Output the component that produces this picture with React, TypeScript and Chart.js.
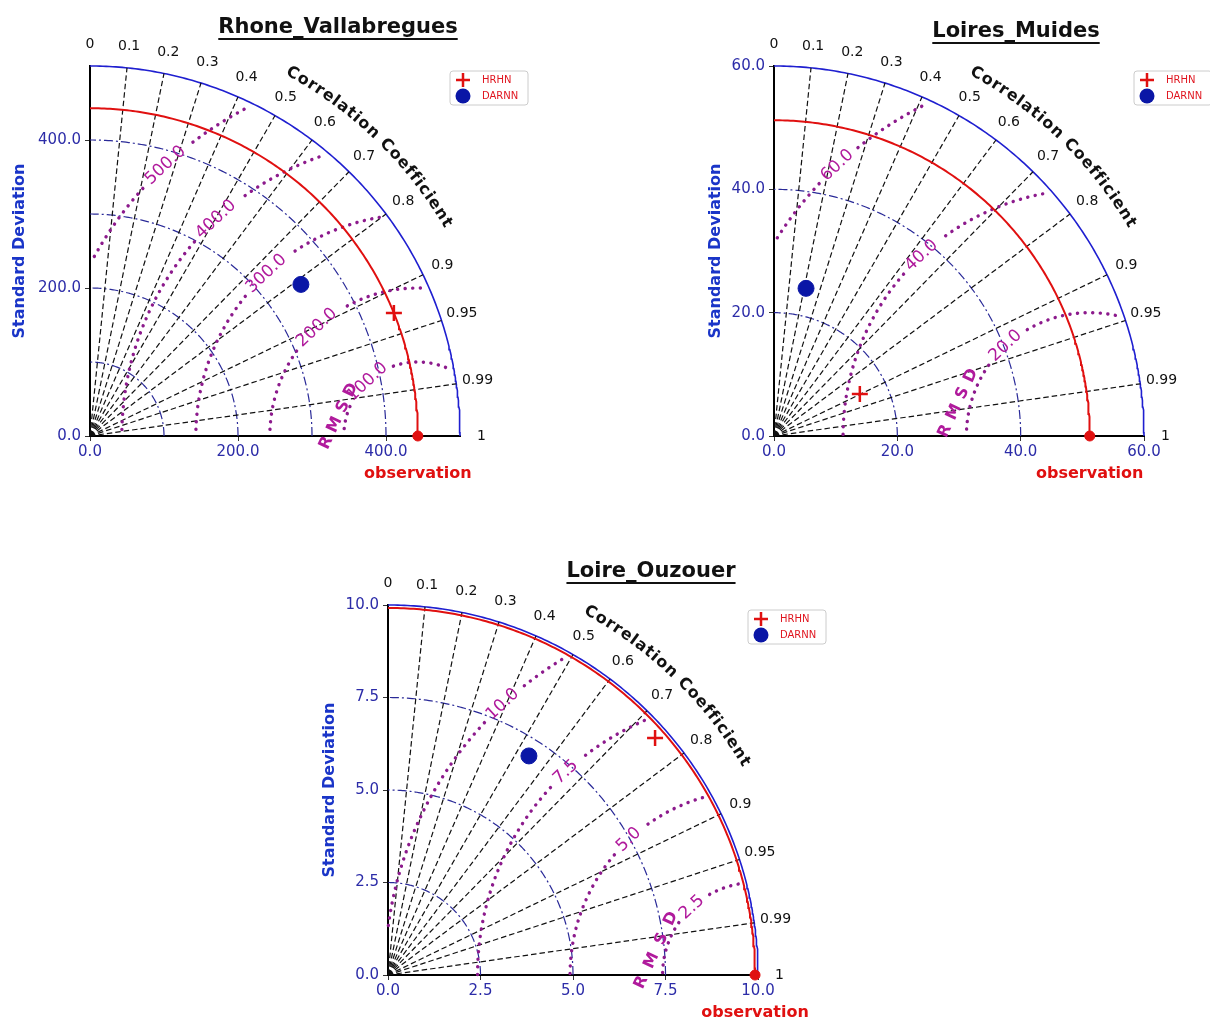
import React, { useEffect, useRef } from "react";
import { Chart, registerables } from "chart.js";

Chart.register(...registerables);
Chart.defaults.font.family = '"DejaVu Sans", sans-serif';

// ---------------- data ----------------
const panelTitles = ["Rhone_Vallabregues", "Loires_Muides", "Loire_Ouzouer"];
const maxStd = [500, 60, 10];
const obsStd = [443, 51.2, 9.92];
const stdTicks = [
  [0, 200, 400],
  [0, 20, 40, 60],
  [0, 2.5, 5, 7.5, 10],
];
const stdGridLevels = [
  [100, 200, 300, 400],
  [20, 40],
  [2.5, 5, 7.5],
];
const rmsLevels = [
  [100, 200, 300, 400, 500],
  [20, 40, 60],
  [2.5, 5, 7.5, 10],
];
const corrTickLabels = [0, 0.1, 0.2, 0.3, 0.4, 0.5, 0.6, 0.7, 0.8, 0.9, 0.95, 0.99, 1];
const corrGridLines = [0.1, 0.2, 0.3, 0.4, 0.5, 0.6, 0.7, 0.8, 0.9, 0.95, 0.99];
const seriesNames = ["HRHN", "DARNN"];
const hrhnStd = [443, 15.5, 9.65];
const hrhnCorr = [0.927, 0.898, 0.748];
const darnnStd = [351, 24.5, 7.04];
const darnnCorr = [0.812, 0.212, 0.541];

// ---------------- layout / style ----------------
const PLOT_PX = 370;
const PANEL_LAYOUT = [
  { left: 0, top: 0, w: 560, h: 500, yW: 90, padTop: 66, padRight: 100, xH: 64, titleDx: 248, titleDy: -33, yTitleDx: 70, rmsdSpacing: 6 },
  { left: 680, top: 0, w: 530, h: 500, yW: 94, padTop: 66, padRight: 66, xH: 64, titleDx: 242, titleDy: -29, yTitleDx: 58, rmsdSpacing: 7 },
  { left: 290, top: 540, w: 560, h: 483, yW: 98, padTop: 65, padRight: 92, xH: 48, titleDx: 263, titleDy: -28, yTitleDx: 58, rmsdSpacing: 10 },
];
const RMS_LABEL_ANGLE = 133;
const RMSD_ANGLE = 166;

const TICK_BLUE = "#2c2ca8";
const TITLE_BLUE = "#1a35c8";
const OUTER_BLUE = "#1f1fd0";
const GRID_BLUE = "#2a2a98";
const OBS_RED = "#e01010";
const RMS_DOT = "#8c1a8c";
const RMS_TXT = "#b01a9c";
const LEG_RED = "#e0141e";
const DARNN_BLUE = "#0a16a6";

const DEG = Math.PI / 180;

type P = { x: number; y: number };

function quarterArc(r: number): P[] {
  const pts: P[] = [];
  for (let t = 0; t <= 90.0001; t += 0.5) pts.push({ x: r * Math.cos(t * DEG), y: r * Math.sin(t * DEG) });
  return pts;
}

function rmsSegments(obs: number, r: number, clipR: number, gapC: number, gapHalf: number): P[][] {
  const segs: P[][] = [];
  let cur: P[] = [];
  for (let t = 0; t <= 180.0001; t += 0.5) {
    const x = obs + r * Math.cos(t * DEG);
    const y = r * Math.sin(t * DEG);
    const ok = x >= -1e-9 && x * x + y * y <= clipR * clipR && Math.abs(t - gapC) > gapHalf;
    if (ok) cur.push({ x, y });
    else if (cur.length) {
      segs.push(cur);
      cur = [];
    }
  }
  if (cur.length) segs.push(cur);
  return segs;
}

function polar(std: number, corr: number): P {
  return { x: std * corr, y: std * Math.sqrt(Math.max(0, 1 - corr * corr)) };
}

function buildDatasets(i: number) {
  const max = maxStd[i];
  const obs = obsStd[i];
  const pxPerUnit = PLOT_PX / max;
  const ds: any[] = [];
  const line = (data: P[], extra: any) =>
    ds.push({ data, showLine: true, pointRadius: 0, tension: 0, clip: false, fill: false, ...extra });

  // markers (on top)
  ds.push({
    label: seriesNames[0],
    data: [polar(hrhnStd[i], hrhnCorr[i])],
    pointStyle: "cross",
    pointRadius: 8,
    pointBorderWidth: 2.5,
    borderColor: OBS_RED,
    backgroundColor: OBS_RED,
    clip: false,
  });
  ds.push({
    label: seriesNames[1],
    data: [polar(darnnStd[i], darnnCorr[i])],
    pointStyle: "circle",
    pointRadius: 8,
    pointBorderWidth: 1,
    borderColor: DARNN_BLUE,
    backgroundColor: DARNN_BLUE,
    clip: false,
  });
  ds.push({
    label: "obs",
    data: [{ x: obs, y: 0 }],
    pointStyle: "circle",
    pointRadius: 5,
    borderColor: OBS_RED,
    backgroundColor: OBS_RED,
    clip: false,
  });
  // observation arc
  line(quarterArc(obs), { borderColor: OBS_RED, borderWidth: 2 });
  // RMS contours
  rmsLevels[i].forEach((lv) => {
    const txt = lv.toFixed(1);
    const halfPx = txt.length * 5.2 + 4;
    const gapHalf = halfPx / (lv * pxPerUnit) / DEG;
    rmsSegments(obs, lv, max * 0.98, RMS_LABEL_ANGLE, gapHalf).forEach((seg) =>
      line(seg, { borderColor: RMS_DOT, borderWidth: 3.4, borderDash: [0.1, 7.5], borderCapStyle: "round" })
    );
  });
  // correlation lines
  corrGridLines.forEach((c) => {
    line([{ x: 0, y: 0 }, polar(max, c)], { borderColor: "#111", borderWidth: 1.2, borderDash: [5.5, 3] });
  });
  // std grid arcs
  stdGridLevels[i].forEach((r) => {
    line(quarterArc(r), { borderColor: GRID_BLUE, borderWidth: 1.2, borderDash: [9, 3, 2, 3] });
  });
  // outer arc
  line(quarterArc(max), { borderColor: OUTER_BLUE, borderWidth: 1.6 });
  return ds;
}

function decorPlugin(i: number) {
  const L = PANEL_LAYOUT[i];
  return {
    id: "taylorDecor" + i,
    afterDraw(chart: any) {
      const ctx: CanvasRenderingContext2D = chart.ctx;
      const xs = chart.scales.x;
      const ys = chart.scales.y;
      const ca = chart.chartArea;
      const max = maxStd[i];
      const obs = obsStd[i];
      const ox = xs.getPixelForValue(0);
      const oy = ys.getPixelForValue(0);
      const R = xs.getPixelForValue(max) - ox;
      const toPx = (x: number, y: number) => [xs.getPixelForValue(x), ys.getPixelForValue(y)];

      ctx.save();
      // title
      ctx.font = 'bold 21px "DejaVu Sans"';
      ctx.fillStyle = "#111";
      ctx.textAlign = "center";
      ctx.textBaseline = "alphabetic";
      const tx = ca.left + L.titleDx;
      const ty = ca.top + L.titleDy;
      ctx.fillText(panelTitles[i], tx, ty);
      const tw = ctx.measureText(panelTitles[i]).width;
      ctx.strokeStyle = "#111";
      ctx.lineWidth = 2;
      ctx.beginPath();
      ctx.moveTo(tx - tw / 2, ty + 6);
      ctx.lineTo(tx + tw / 2, ty + 6);
      ctx.stroke();

      // y title
      ctx.save();
      ctx.translate(ca.left - L.yTitleDx, (ca.top + ca.bottom) / 2);
      ctx.rotate(-Math.PI / 2);
      ctx.font = 'bold 16px "DejaVu Sans"';
      ctx.fillStyle = TITLE_BLUE;
      ctx.textBaseline = "middle";
      ctx.fillText("Standard Deviation", 0, 0);
      ctx.restore();

      // observation label
      ctx.font = 'bold 16px "DejaVu Sans"';
      ctx.fillStyle = OBS_RED;
      ctx.textBaseline = "middle";
      ctx.fillText("observation", xs.getPixelForValue(obs), ca.bottom + 38);

      // correlation tick labels
      ctx.font = '14px "DejaVu Sans"';
      ctx.fillStyle = "#111";
      corrTickLabels.forEach((c) => {
        const a = Math.acos(c);
        const rr = R * 1.058;
        ctx.fillText(String(c), ox + rr * Math.cos(a), oy - rr * Math.sin(a));
      });

      // curved "Correlation Coefficient"
      ctx.font = 'bold 16px "DejaVu Sans"';
      const text = "Correlation Coefficient";
      const sp = 1;
      const chars = [...text];
      const ws = chars.map((ch) => ctx.measureText(ch).width);
      const total = ws.reduce((s, w) => s + w + sp, 0) - sp;
      const rr = R * 1.122;
      const centerA = 46 * DEG;
      let s = 0;
      chars.forEach((ch, k) => {
        const a = centerA + (total / 2 - (s + ws[k] / 2)) / rr;
        ctx.save();
        ctx.translate(ox + rr * Math.cos(a), oy - rr * Math.sin(a));
        ctx.rotate(Math.PI / 2 - a);
        ctx.fillText(ch, 0, 0);
        ctx.restore();
        s += ws[k] + sp;
      });

      // RMS labels
      ctx.font = '17px "DejaVu Sans"';
      ctx.fillStyle = RMS_TXT;
      rmsLevels[i].forEach((lv) => {
        const t = RMS_LABEL_ANGLE * DEG;
        const [px, py] = toPx(obs + lv * Math.cos(t), lv * Math.sin(t));
        ctx.save();
        ctx.translate(px, py);
        ctx.rotate(-(RMS_LABEL_ANGLE - 90) * DEG);
        ctx.fillText(lv.toFixed(1), 0, 0);
        ctx.restore();
      });

      // RMSD label
      {
        const lv0 = rmsLevels[i][0] * 1.1;
        const t = RMSD_ANGLE * DEG;
        const [px, py] = toPx(obs + lv0 * Math.cos(t), lv0 * Math.sin(t));
        ctx.font = 'bold 16px "DejaVu Sans"';
        ctx.fillStyle = RMS_TXT;
        const letters = ["R", "M", "S", "D"];
        const lw = letters.map((ch) => ctx.measureText(ch).width);
        const tot = lw.reduce((a, b) => a + b, 0) + L.rmsdSpacing * 3;
        ctx.save();
        ctx.translate(px, py);
        ctx.rotate(-65 * DEG);
        let cx = -tot / 2;
        letters.forEach((ch, k) => {
          ctx.fillText(ch, cx + lw[k] / 2, 0);
          cx += lw[k] + L.rmsdSpacing;
        });
        ctx.restore();
      }

      // legend
      {
        const bx = ca.right - 10;
        const by = ca.top + 5;
        const bw = 78;
        const bh = 34;
        ctx.fillStyle = "rgba(255,255,255,0.9)";
        ctx.strokeStyle = "#cccccc";
        ctx.lineWidth = 1;
        ctx.beginPath();
        (ctx as any).roundRect ? (ctx as any).roundRect(bx, by, bw, bh, 3) : ctx.rect(bx, by, bw, bh);
        ctx.fill();
        ctx.stroke();
        const mx = bx + 13;
        const y1 = by + 9;
        const y2 = by + 25;
        ctx.strokeStyle = OBS_RED;
        ctx.lineWidth = 2.5;
        ctx.beginPath();
        ctx.moveTo(mx - 7, y1);
        ctx.lineTo(mx + 7, y1);
        ctx.moveTo(mx, y1 - 7);
        ctx.lineTo(mx, y1 + 7);
        ctx.stroke();
        ctx.fillStyle = DARNN_BLUE;
        ctx.beginPath();
        ctx.arc(mx, y2, 7.5, 0, Math.PI * 2);
        ctx.fill();
        ctx.font = '10px "DejaVu Sans"';
        ctx.fillStyle = LEG_RED;
        ctx.textAlign = "left";
        ctx.textBaseline = "middle";
        ctx.fillText(seriesNames[0], bx + 32, y1);
        ctx.fillText(seriesNames[1], bx + 32, y2);
      }
      ctx.restore();
    },
  };
}

function buildConfig(i: number): any {
  const L = PANEL_LAYOUT[i];
  const max = maxStd[i];
  const ticks = stdTicks[i];
  const axis = (isX: boolean) => ({
    type: "linear",
    min: 0,
    max,
    afterBuildTicks: (a: any) => {
      a.ticks = ticks.map((v) => ({ value: v }));
    },
    afterFit: (a: any) => {
      if (isX) a.height = L.xH;
      else a.width = L.yW;
    },
    ticks: {
      color: TICK_BLUE,
      font: { size: 15 },
      padding: isX ? 2 : 4,
      autoSkip: false,
      maxRotation: 0,
      minRotation: 0,
      callback: (v: any) => Number(v).toFixed(1),
    },
    grid: { drawOnChartArea: false, drawTicks: true, tickLength: 5, color: "#333" },
    border: { display: true, color: "#000", width: 2 },
  });
  return {
    type: "scatter",
    data: { datasets: buildDatasets(i) },
    options: {
      responsive: false,
      animation: false,
      events: [],
      layout: { padding: { top: L.padTop, right: L.padRight, bottom: 0, left: 0 } },
      plugins: { legend: { display: false }, tooltip: { enabled: false }, title: { display: false } },
      scales: { x: axis(true), y: axis(false) },
    },
    plugins: [decorPlugin(i)],
  };
}

function TaylorPanel({ idx }: { idx: number }) {
  const ref = useRef<HTMLCanvasElement | null>(null);
  useEffect(() => {
    if (!ref.current) return;
    const chart = new Chart(ref.current, buildConfig(idx));
    return () => chart.destroy();
  }, [idx]);
  const L = PANEL_LAYOUT[idx];
  return (
    <canvas
      ref={ref}
      width={L.w}
      height={L.h}
      style={{ position: "absolute", left: L.left, top: L.top, width: L.w, height: L.h }}
    />
  );
}

export default function App() {
  return (
    <div style={{ position: "absolute", left: 0, top: 0, width: 1210, height: 1023, background: "#fff", overflow: "hidden" }}>
      {panelTitles.map((_, i) => (
        <TaylorPanel key={i} idx={i} />
      ))}
    </div>
  );
}
